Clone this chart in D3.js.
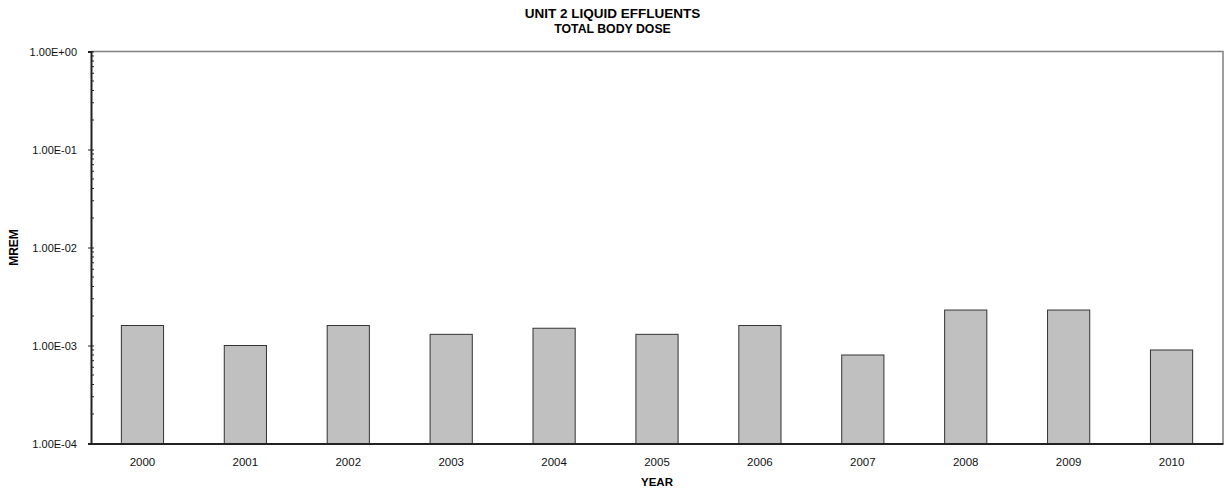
<!DOCTYPE html>
<html>
<head>
<meta charset="utf-8">
<script src="https://cdn.jsdelivr.net/npm/d3@7"></script>
<style>
  body { margin: 0; background: #fff; }
  svg { font-family: "Liberation Sans", Arial, sans-serif; display: block; }
</style>
</head>
<body>
<svg id="chart" width="1225" height="495"></svg>
<script>
// data
const years = ["2000", "2001", "2002", "2003", "2004", "2005", "2006", "2007", "2008", "2009", "2010"];
const doses = [1.6e-3, 1.0e-3, 1.6e-3, 1.3e-3, 1.5e-3, 1.3e-3, 1.6e-3, 8.0e-4, 2.3e-3, 2.3e-3, 9.0e-4];
const yTicks = [1e-4, 1e-3, 1e-2, 1e-1, 1e0];
const yTickLabels = ["1.00E-04", "1.00E-03", "1.00E-02", "1.00E-01", "1.00E+00"];

const W = 1225, H = 495;
const pLeft = 91, pRight = 1223, pTop = 51.5, pBottom = 443.5;

const svg = d3.select("#chart");

const x = d3.scaleBand()
  .domain(years)
  .range([pLeft, pRight])
  .paddingInner(0.59)
  .paddingOuter(0.295);

const y = d3.scaleLog()
  .domain([1e-4, 1e0])
  .range([pBottom, pTop]);

// frame top and right (grey)
svg.append("path")
  .attr("d", `M${pLeft},${pTop}H${pRight}V${pBottom}`)
  .attr("fill", "none")
  .attr("stroke", "#808080")
  .attr("stroke-width", 1.5);

// bars
svg.selectAll("rect.bar")
  .data(doses)
  .enter()
  .append("rect")
  .attr("class", "bar")
  .attr("x", (d, i) => x(years[i]))
  .attr("y", d => y(d))
  .attr("width", x.bandwidth())
  .attr("height", d => pBottom - y(d))
  .attr("fill", "#c0c0c0")
  .attr("stroke", "#333")
  .attr("stroke-width", 1);

// minor log ticks
const minor = [];
for (let e = -4; e < 0; e++) {
  for (let m = 2; m <= 9; m++) minor.push(m * Math.pow(10, e));
}
svg.append("g")
  .selectAll("line")
  .data(minor)
  .enter()
  .append("line")
  .attr("x1", pLeft)
  .attr("x2", pLeft + 3)
  .attr("y1", d => y(d))
  .attr("y2", d => y(d))
  .attr("stroke", "#222")
  .attr("stroke-width", 1);

// y axis
const yAxis = d3.axisLeft(y)
  .tickValues(yTicks)
  .tickSize(3)
  .tickPadding(11)
  .tickFormat((d, i) => yTickLabels[i]);

const gy = svg.append("g")
  .attr("transform", `translate(${pLeft},0)`)
  .call(yAxis);
gy.select(".domain").attr("stroke", "#222").attr("stroke-width", 2);
gy.selectAll(".tick line").attr("stroke", "#222").attr("x2", 3).attr("x1", -3);
gy.selectAll(".tick text")
  .attr("font-size", 11)
  .attr("font-family", "Liberation Sans, Arial, sans-serif")
  .attr("fill", "#111");

// x axis
const xAxis = d3.axisBottom(x).tickSize(0).tickPadding(14);
const gx = svg.append("g")
  .attr("transform", `translate(0,${pBottom})`)
  .call(xAxis);
gx.select(".domain").attr("stroke", "#222").attr("stroke-width", 2);
gx.selectAll(".tick text")
  .attr("font-size", 11.5)
  .attr("font-family", "Liberation Sans, Arial, sans-serif")
  .attr("fill", "#111");

// titles
svg.append("text")
  .attr("x", W / 2)
  .attr("y", 17.5)
  .attr("text-anchor", "middle")
  .attr("font-size", 13.5)
  .attr("font-weight", "bold")
  .text("UNIT 2 LIQUID EFFLUENTS");

svg.append("text")
  .attr("x", W / 2)
  .attr("y", 33)
  .attr("text-anchor", "middle")
  .attr("font-size", 12.3)
  .attr("font-weight", "bold")
  .text("TOTAL BODY DOSE");

svg.append("text")
  .attr("x", (pLeft + pRight) / 2)
  .attr("y", 486)
  .attr("text-anchor", "middle")
  .attr("font-size", 11.5)
  .attr("font-weight", "bold")
  .text("YEAR");

svg.append("text")
  .attr("transform", `translate(18,${(pTop + pBottom) / 2}) rotate(-90)`)
  .attr("text-anchor", "middle")
  .attr("font-size", 12)
  .attr("font-weight", "bold")
  .text("MREM");
</script>
</body>
</html>
